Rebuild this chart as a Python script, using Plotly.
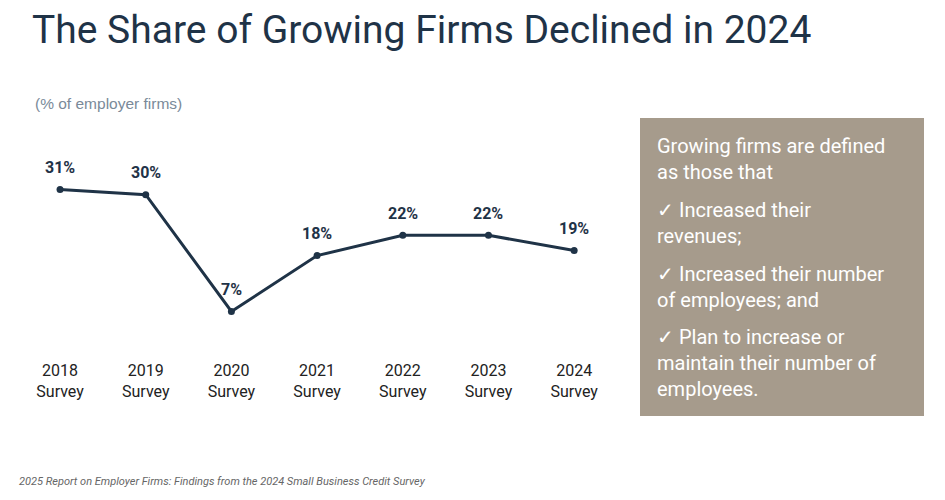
import plotly.graph_objects as go

surveys = ["2018", "2019", "2020", "2021", "2022", "2023", "2024"]
tick_labels = [s + "<br>Survey" for s in surveys]
share_growing = [31, 30, 7, 18, 22, 22, 19]

W, H = 945, 500
OFF = 8  # page body margin
navy = "#1f3347"


def px(x):
    return (x - OFF) / W


def py(y):
    return 1 - (y - OFF) / H


fig = go.Figure()
fig.add_trace(go.Scatter(
    x=list(range(len(surveys))), y=share_growing,
    mode="lines+markers",
    line=dict(color=navy, width=3),
    marker=dict(size=7, color=navy),
    hoverinfo="skip",
))
for i, v in enumerate(share_growing):
    fig.add_annotation(x=i, y=v, yshift=22, showarrow=False, text=f"<b>{v}%</b>",
                       font=dict(family="Roboto", size=16, color=navy))

fig.update_xaxes(
    domain=[px(17.2), px(617)], range=[-0.5, 6.5],
    tickmode="array", tickvals=list(range(len(surveys))), ticktext=tick_labels,
    showgrid=False, zeroline=False, showline=False,
    tickfont=dict(family="Roboto", size=16, color="#222"),
    ticklabelstandoff=12,
)
fig.update_yaxes(domain=[py(347), py(120)], range=[0, 44.7], visible=False)

fig.add_shape(type="rect", xref="paper", yref="paper",
              x0=px(640), x1=px(924), y0=py(416), y1=py(118),
              fillcolor="#a69b8c", line=dict(width=0), layer="below")

paras = [
    (132, "Growing firms are defined<br>as those that"),
    (196, "✓ Increased their<br>revenues;"),
    (260, "✓ Increased their number<br>of employees; and"),
    (323, "✓ Plan to increase or<br>maintain their number of<br>employees."),
]
for ytop, txt in paras:
    fig.add_annotation(xref="paper", yref="paper", x=px(655), y=py(ytop),
                       xanchor="left", yanchor="top", align="left", showarrow=False,
                       text=txt, font=dict(family="Roboto", size=20, color="white"))

fig.add_annotation(xref="paper", yref="paper", x=px(30), y=py(30),
                   xanchor="left", yanchor="middle", showarrow=False,
                   text="The Share of Growing Firms Declined in 2024",
                   font=dict(family="Roboto", size=39, color=navy))
fig.add_annotation(xref="paper", yref="paper", x=px(33), y=py(104),
                   xanchor="left", yanchor="middle", showarrow=False,
                   text="(% of employer firms)",
                   font=dict(family="Liberation Sans", size=15.5, color="#7a8a99"))
fig.add_annotation(xref="paper", yref="paper", x=px(17), y=py(481),
                   xanchor="left", yanchor="middle", showarrow=False,
                   text="<i>2025 Report on Employer Firms: Findings from the 2024 Small Business Credit Survey</i>",
                   font=dict(family="Roboto", size=11, color="#666"))

fig.update_layout(width=W, height=H, margin=dict(l=0, r=0, t=0, b=0),
                  plot_bgcolor="white", paper_bgcolor="white", showlegend=False)
fig.write_html("out.html")
